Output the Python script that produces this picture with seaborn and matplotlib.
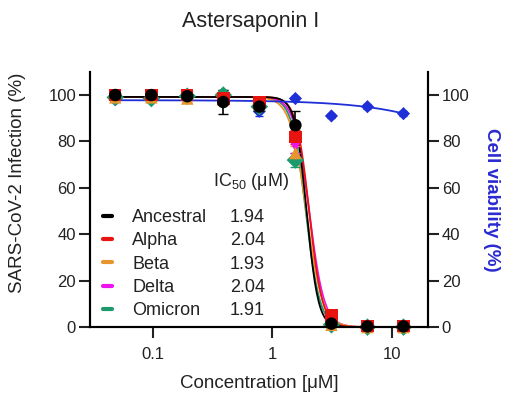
import numpy as np
import pandas as pd
import matplotlib
matplotlib.use("Agg")
import matplotlib.pyplot as plt
from matplotlib.lines import Line2D
import seaborn as sns

sns.set_theme(style="ticks")
plt.rcParams["font.family"] = ["Liberation Sans", "DejaVu Sans"]
plt.rcParams["mathtext.fontset"] = "custom"
plt.rcParams["mathtext.rm"] = "Liberation Sans"

# concentrations (uM), two-fold dilution
conc = [0.0488, 0.0977, 0.195, 0.39, 0.78, 1.5625, 3.125, 6.25, 12.5]

variants = ["Ancestral", "Alpha", "Beta", "Delta", "Omicron"]
ic50 = [1.94, 2.04, 1.93, 2.04, 1.91]
hill = [9.0, 8.0, 6.5, 7.0, 7.5]
colors = ["#000000", "#e8140f", "#e8952e", "#ee12ee", "#1d9a6c"]
markers = ["o", "s", "^", "v", "D"]

infection = {
    "Ancestral": [100, 100, 99.5, 97, 95, 87, 1.5, 0.3, 0.3],
    "Alpha": [100, 100, 100, 98.5, 97, 82, 5, 0.5, 0.5],
    "Beta": [99, 99, 98.5, 98, 96, 75, 1, 0, 0],
    "Delta": [99.5, 99.5, 99, 98.5, 96, 78, 1, 0, 0],
    "Omicron": [99, 98.5, 99.5, 100, 95, 72, 1, 0, 0],
}
infection_sd = {
    "Ancestral": [1, 1, 1, 5, 2, 6, 1, 0.5, 0.5],
    "Alpha": [1, 1, 1.5, 1, 1.5, 3, 1, 0.5, 0.5],
    "Beta": [1, 1.5, 1.5, 1, 1, 3, 0.5, 0, 0],
    "Delta": [1, 1, 1, 1, 1, 3, 0.5, 0, 0],
    "Omicron": [1, 1, 1, 2, 1, 3, 0.5, 0, 0],
}

viability = [98, 99, 99, 98, 93, 98.5, 91, 95, 92]
viability_sd = [1, 1, 1, 1, 2, 1, 1, 1, 1]
via_top, via_cc50, via_hill = 97.8, 200.0, 1.0
curve_top = 99.2

rows = []
for v in variants:
    for c, y, e in zip(conc, infection[v], infection_sd[v]):
        rows.append({"conc": c, "val": y, "sd": e, "variant": v})
df = pd.DataFrame(rows)

xs = np.logspace(np.log10(conc[0]), np.log10(conc[-1]), 300)
fit_rows = []
for v, i50, h in zip(variants, ic50, hill):
    for x in xs:
        fit_rows.append({"conc": x, "val": curve_top / (1 + (x / i50) ** h), "variant": v})
fit = pd.DataFrame(fit_rows)

fig = plt.figure(figsize=(5.07, 3.97), dpi=100)
ax = fig.add_axes([0.1775, 0.176, 0.6665, 0.643])
ax.set_xscale("log")

pal = dict(zip(variants, colors))
sns.lineplot(data=fit, x="conc", y="val", hue="variant", palette=pal,
             hue_order=variants[::-1], lw=1.3, legend=False, ax=ax, zorder=2)

# viability
vfit = via_top / (1 + (xs / via_cc50) ** via_hill)
sns.lineplot(x=xs, y=vfit, color="#1f2fd8", lw=1.3, ax=ax, zorder=2)
ax.errorbar(conc, viability, yerr=viability_sd, fmt="none", ecolor="#1f2fd8",
            elinewidth=1, capsize=3, zorder=3)
sns.scatterplot(x=conc, y=viability, color="#1f2fd8", marker="D", s=45,
                edgecolor="none", ax=ax, zorder=3, clip_on=False)

for v, m in zip(variants[::-1], markers[::-1]):
    d = df[df.variant == v]
    ax.errorbar(d.conc, d.val, yerr=d.sd, fmt="none", ecolor=pal[v],
                elinewidth=1.2, capsize=3.5, zorder=4)
    sns.scatterplot(data=d, x="conc", y="val", color=pal[v], marker=m, s=80,
                    edgecolor="none", ax=ax, zorder=5, clip_on=False, legend=False)

ax.set_xlim(0.03, 20)
ax.set_ylim(0, 110)
ax.set_yticks([0, 20, 40, 60, 80, 100])
ax.set_xticks([0.1, 1, 10])
ax.set_xticklabels(["0.1", "1", "10"])
ax.xaxis.set_minor_locator(matplotlib.ticker.NullLocator())

ax2 = ax.twinx()
ax2.set_ylim(0, 110)
ax2.set_yticks([0, 20, 40, 60, 80, 100])

for a in (ax, ax2):
    a.spines["top"].set_visible(False)
    for s in ["left", "right", "bottom"]:
        a.spines[s].set_linewidth(1.5)
        a.spines[s].set_color("black")
    a.tick_params(length=8, width=1.5, labelsize=12, colors="#222222", pad=2)
ax.tick_params(axis="x", pad=6)

ax.set_xlabel("Concentration [μM]", fontsize=13.5, color="#222222", labelpad=10)
ax.set_ylabel("SARS-CoV-2 Infection (%)", fontsize=13.5, color="#222222")
ax.yaxis.set_label_coords(-0.19, 0.565)
ax2.set_ylabel("Cell viability (%)", fontsize=13.5, color="#2a2ad0",
               fontweight="bold", rotation=270, labelpad=22)
ax.set_title("Astersaponin I", fontsize=15.5, color="#222222", pad=32, x=0.475)

handles = [Line2D([], [], color=c, lw=3) for c in colors]
leg = ax.legend(handles, variants, loc="upper left", bbox_to_anchor=(0.005, 0.505),
                frameon=False, fontsize=13, handlelength=0.55, handletextpad=1.1,
                labelspacing=0.35, borderaxespad=0.2)
for t in leg.get_texts():
    t.set_color("#222222")
ax.text(0.365, 0.57, "IC$_{50}$ (μM)", transform=ax.transAxes, fontsize=13,
        color="#222222", va="center", ha="left")

fig.canvas.draw()
inv = ax.transAxes.inverted()
for t, val in zip(leg.get_texts(), ic50):
    bb = t.get_window_extent()
    yc = inv.transform(((bb.x0 + bb.x1) / 2, (bb.y0 + bb.y1) / 2))[1]
    ax.text(0.518, yc, f"{val:.2f}", transform=ax.transAxes, fontsize=13,
            color="#222222", ha="right", va="center")

fig.savefig("out.png", dpi=100)
